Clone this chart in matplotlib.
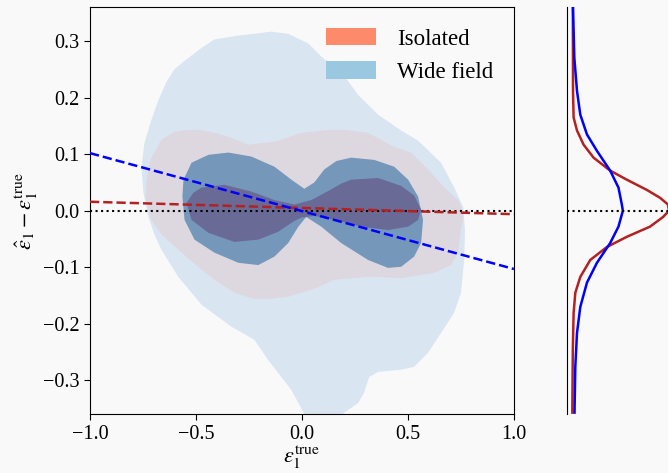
import numpy as np
import matplotlib
matplotlib.use("Agg")
import matplotlib.pyplot as plt
from matplotlib.patches import Patch

plt.rcParams["font.family"] = ["Liberation Serif", "DejaVu Serif"]
plt.rcParams["mathtext.fontset"] = "stix"

# --------------------------------
# Contour outlines (x = eps_true, y = residual)
# --------------------------------

wide_outer_x = [-0.145, -0.065, 0.030, 0.091, 0.199, 0.265, 0.359, 0.468, 0.548, 0.656,
                0.717, 0.760, 0.769, 0.765, 0.750, 0.717, 0.656, 0.595, 0.529, 0.468,
                0.359, 0.317, 0.293, 0.265, 0.185, 0.138, 0.020, 0.011, -0.050, -0.159,
                -0.225, -0.333, -0.474, -0.583, -0.663, -0.696, -0.724, -0.748, -0.757,
                -0.743, -0.710, -0.677, -0.639, -0.602, -0.554, -0.474, -0.413, -0.300, -0.225]
wide_outer_y = [0.317, 0.313, 0.296, 0.273, 0.239, 0.205, 0.170, 0.142, 0.124, 0.085,
                0.042, 0.007, -0.034, -0.087, -0.145, -0.181, -0.216, -0.251, -0.276, -0.281,
                -0.285, -0.294, -0.322, -0.340, -0.361, -0.388, -0.388, -0.359, -0.317, -0.264,
                -0.228, -0.205, -0.166, -0.117, -0.069, -0.042, -0.011, 0.032, 0.078,
                0.120, 0.161, 0.196, 0.228, 0.250, 0.265, 0.288, 0.303, 0.310, 0.313]

iso_outer_x = [-0.663, -0.602, -0.536, -0.474, -0.413, -0.347, -0.253, -0.130, -0.003, 0.124,
               0.209, 0.312, 0.435, 0.515, 0.595, 0.670, 0.736, 0.764, 0.750, 0.736,
               0.703, 0.623, 0.468, 0.312, 0.152, 0.077, -0.003, -0.065, -0.159, -0.225,
               -0.319, -0.413, -0.474, -0.568, -0.663, -0.710, -0.738, -0.733, -0.715]
iso_outer_y = [0.126, 0.140, 0.143, 0.143, 0.138, 0.131, 0.117, 0.122, 0.138, 0.143,
               0.143, 0.138, 0.113, 0.103, 0.073, 0.042, 0.019, -0.004, -0.034, -0.074,
               -0.096, -0.110, -0.119, -0.117, -0.122, -0.135, -0.145, -0.152, -0.156, -0.156,
               -0.145, -0.122, -0.104, -0.074, -0.042, -0.016, 0.019, 0.055, 0.090]

wide_inner_x = [-0.559, -0.521, -0.441, -0.347, -0.239, -0.130, -0.050, 0.011, 0.058, 0.105,
                0.162, 0.232, 0.341, 0.435, 0.501, 0.548, 0.571, 0.562, 0.529, 0.468,
                0.406, 0.312, 0.185, 0.091, 0.020, -0.017, -0.065, -0.130, -0.206, -0.300,
                -0.413, -0.507, -0.554, -0.564]
wide_inner_y = [0.055, 0.085, 0.099, 0.103, 0.096, 0.078, 0.055, 0.039, 0.050, 0.073,
                0.088, 0.094, 0.090, 0.078, 0.055, 0.025, -0.016, -0.057, -0.081, -0.099,
                -0.101, -0.087, -0.057, -0.028, -0.011, -0.028, -0.057, -0.081, -0.096, -0.092,
                -0.074, -0.051, -0.016, 0.025]

iso_inner_x = [-0.545, -0.512, -0.474, -0.366, -0.239, -0.130, -0.036, 0.044, 0.124, 0.185,
               0.232, 0.359, 0.468, 0.529, 0.562, 0.548, 0.501, 0.406, 0.279, 0.152,
               0.058, -0.003, -0.036, -0.112, -0.206, -0.319, -0.441, -0.521]
iso_inner_y = [0.014, 0.032, 0.041, 0.046, 0.034, 0.019, 0.011, 0.019, 0.035, 0.048,
               0.055, 0.058, 0.044, 0.027, 0.002, -0.016, -0.028, -0.034, -0.028, -0.016,
               -0.009, -0.012, -0.018, -0.037, -0.051, -0.055, -0.039, -0.016]

# linear fits (slope, intercept)
iso_fit = (-0.011, 0.005)
wide_fit = (-0.1025, -0.0005)
fit_x = [-1.0, 1.0]

# --------------------------------
# Marginal densities of the residual
# --------------------------------

iso_dens_y = [0.359, 0.301, 0.212, 0.165, 0.142, 0.117, 0.094, 0.071, 0.055, 0.037,
              0.023, 0.011, 0.000, -0.011, -0.028, -0.046, -0.064, -0.087, -0.117, -0.145,
              -0.181, -0.246, -0.357]
iso_dens = [0.55, 0.56, 0.57, 0.63, 0.97, 1.63, 2.63, 4.30, 5.97, 7.97,
            9.30, 10.10, 10.20, 9.60, 8.30, 5.97, 3.97, 2.30, 1.30, 0.80,
            0.63, 0.55, 0.50]

wide_dens_y = [0.359, 0.271, 0.212, 0.170, 0.135, 0.106, 0.071, 0.041, 0.011, 0.000,
               -0.028, -0.057, -0.092, -0.127, -0.170, -0.216, -0.276, -0.357]
wide_dens = [0.57, 0.70, 0.97, 1.30, 1.97, 2.97, 4.30, 5.13, 5.47, 5.57,
             5.13, 4.30, 2.97, 1.97, 1.30, 0.97, 0.80, 0.72]

bg = "#f9f9f9"
fig = plt.figure(figsize=(6.68, 4.73), dpi=100, facecolor=bg)
ax = fig.add_axes([0.1347, 0.1241, 0.6347, 0.8605], facecolor=bg)
axr = fig.add_axes([0.8493, 0.1241, 0.1507, 0.8605], facecolor=bg, sharey=ax)

ax.fill(wide_outer_x, wide_outer_y, color="#d9e5f1", lw=0, zorder=1)
ax.fill(iso_outer_x, iso_outer_y, color="#fa8072", alpha=0.13, lw=0, zorder=2)
ax.fill(wide_inner_x, wide_inner_y, color="#7597ba", lw=0, zorder=3)
ax.fill(iso_inner_x, iso_inner_y, color="#6a6a96", lw=0, zorder=4)

fx = np.array(fit_x)
ax.plot(fx, iso_fit[0] * fx + iso_fit[1], ls="--", color="#b22222", lw=1.8, zorder=6)
ax.plot(fx, wide_fit[0] * fx + wide_fit[1], ls="--", color="blue", lw=1.8, zorder=6)
ax.axhline(0, color="black", ls=":", lw=1.5, zorder=5)

ax.set_xlim(-1, 1)
ax.set_ylim(-0.36, 0.36)
ax.set_xticks([-1.0, -0.5, 0.0, 0.5, 1.0])
ax.set_yticks([-0.3, -0.2, -0.1, 0.0, 0.1, 0.2, 0.3])
ax.tick_params(labelsize=14.5, length=4, direction="out")
ax.set_xlabel(r"$\epsilon_1^{\rm true}$", fontsize=16, labelpad=0)
ax.set_ylabel(r"$\hat{\epsilon}_1 - \epsilon_1^{\rm true}$", fontsize=16, labelpad=2)

handles = [Patch(facecolor="#fe8a6c", edgecolor="none", label="Isolated"),
           Patch(facecolor="#99c8e0", edgecolor="none", label="Wide field")]
ax.legend(handles=handles, loc="upper right", frameon=False, fontsize=16.5,
          handlelength=2.2, handleheight=0.8, handletextpad=0.9, labelspacing=0.5)

axr.plot(iso_dens, iso_dens_y, color="#b22222", lw=1.8)
axr.plot(wide_dens, wide_dens_y, color="blue", lw=1.8)
axr.axhline(0, color="black", ls=":", lw=1.5)
axr.set_xlim(0, 10.1)
for s in ["top", "right", "bottom"]:
    axr.spines[s].set_visible(False)
axr.tick_params(left=False, bottom=False, labelleft=False, labelbottom=False)

fig.savefig("out.png", dpi=100, facecolor=bg)
